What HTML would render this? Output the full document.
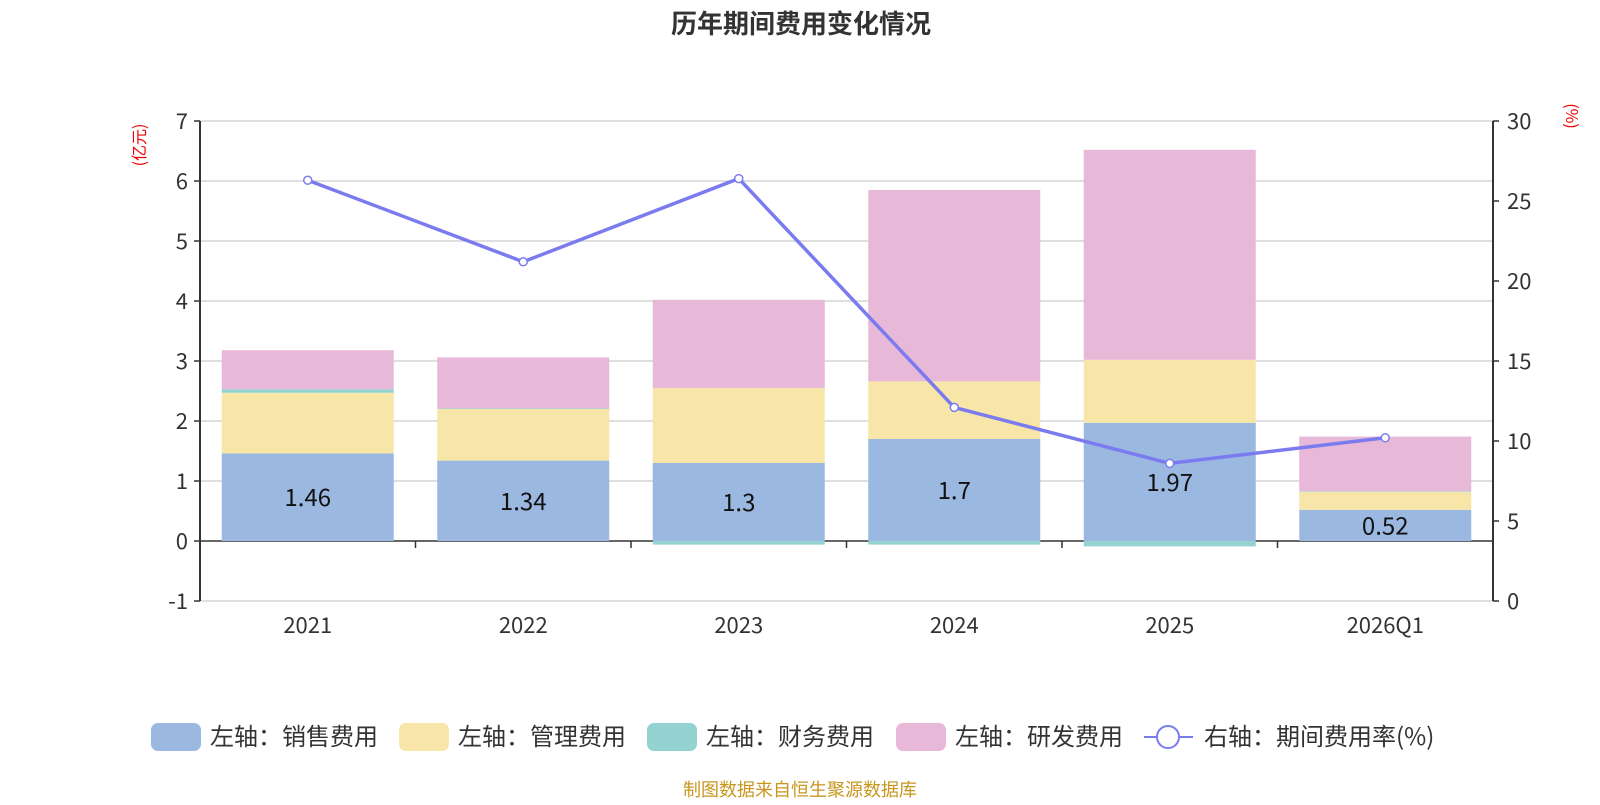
<!DOCTYPE html>
<html><head><meta charset="utf-8">
<style>
body{margin:0;background:#fff;font-family:"Noto Sans CJK SC","Liberation Sans",sans-serif;}
</style></head>
<body>
<svg id="chart" width="1600" height="800" xmlns="http://www.w3.org/2000/svg" font-family="Noto Sans CJK SC, Liberation Sans, sans-serif">
<text x="801" y="33" text-anchor="middle" font-size="26" font-weight="bold" fill="#333">历年期间费用变化情况</text>
<text transform="translate(145,145) rotate(-90)" text-anchor="middle" font-size="16" fill="#e00">(亿元)</text>
<text transform="translate(1566,116) rotate(90)" text-anchor="middle" font-size="16" fill="#e00">(%)</text>
<g id="grid"></g><g id="bars"></g><g id="axes"></g><g id="line"></g>
<g id="legend" font-size="24" fill="#333"></g>
<text x="800" y="796" text-anchor="middle" font-size="18" fill="#c8961e">制图数据来自恒生聚源数据库</text>
</svg>
<script>
const categories=["2021","2022","2023","2024","2025","2026Q1"];
const sales=[1.46,1.34,1.3,1.7,1.97,0.52];
const mgmt=[1.01,0.86,1.25,0.96,1.05,0.3];
const finance=[0.06,0.01,-0.06,-0.06,-0.09,0.01];
const rnd=[0.65,0.85,1.47,3.19,3.5,0.91];
const rate=[26.3,21.2,26.4,12.1,8.6,10.2];
const leftTicks=[-1,0,1,2,3,4,5,6,7];
const rightTicks=[0,5,10,15,20,25,30];
const NS="http://www.w3.org/2000/svg";
const x0=200,x1=1493,yTop=121,yBot=601;
const yL=v=>yTop+(7-v)*(yBot-yTop)/8;
const yR=v=>yBot-v*(yBot-yTop)/30;
const bw=(x1-x0)/categories.length;
const xc=i=>x0+bw*(i+0.5);
function mk(tag,attrs,parent){const e=document.createElementNS(NS,tag);for(const k in attrs)e.setAttribute(k,attrs[k]);document.getElementById(parent).appendChild(e);return e;}
leftTicks.forEach(t=>{
 const l=mk('line',{x1:x0,x2:x1,y1:yL(t),y2:yL(t),stroke:t===0?'#333':'#ccc','stroke-width':t===0?1.5:1.2},'grid');
 
 
 const tx=mk('text',{x:x0-12,y:yL(t)+8,'text-anchor':'end','font-size':22,fill:'#333'},'axes');tx.textContent=t;
 
 
 mk('line',{x1:x0-6,x2:x0,y1:yL(t),y2:yL(t),stroke:'#333','stroke-width':1.5},'axes');
});
rightTicks.forEach(t=>{
 const tx=mk('text',{x:x1+14,y:yR(t)+8,'font-size':22,fill:'#333'},'axes');tx.textContent=t;
 
 
 mk('line',{x1:x1,x2:x1+6,y1:yR(t),y2:yR(t),stroke:'#333','stroke-width':1.5},'axes');
});
mk('line',{x1:x0,x2:x0,y1:yTop,y2:yBot,stroke:'#333','stroke-width':2},'axes');
mk('line',{x1:x1,x2:x1,y1:yTop,y2:yBot,stroke:'#333','stroke-width':2},'axes');
for(let i=1;i<categories.length;i++)mk('line',{x1:x0+bw*i,x2:x0+bw*i,y1:yL(0),y2:yL(0)+7,stroke:'#333','stroke-width':1.5},'axes');
categories.forEach((c,i)=>{
 const tx=mk('text',{x:xc(i),y:633,'text-anchor':'middle','font-size':22,fill:'#333'},'axes');tx.textContent=c;
 
 
 const w=172,x=xc(i)-w/2;
 let pos=0,neg=0;
 [[sales,'#9bb8e0','bar-sales'],[mgmt,'#f8e6a8','bar-management'],[finance,'#95d3d3','bar-finance'],[rnd,'#e7b8d8','bar-rnd']].forEach(([arr,col,nm])=>{
  const v=arr[i];let a,b;
  if(v>=0){a=pos;b=pos+v;pos=b;}else{a=neg+v;b=neg;neg=a;}
  const r=mk('rect',{x:x,width:w,y:yL(b),height:yL(a)-yL(b),fill:col},'bars');
  
  
 });
 const lb=mk('text',{x:xc(i),y:(yL(0)+yL(sales[i]))/2+9,'text-anchor':'middle','font-size':24,fill:'#111'},'bars');lb.textContent=sales[i];
 
 
});
mk('polyline',{points:rate.map((v,i)=>xc(i)+','+yR(v)).join(' '),fill:'none',stroke:'#7b7bf0','stroke-width':3.5},'line');
rate.forEach((v,i)=>{const c=mk('circle',{cx:xc(i),cy:yR(v),r:4,fill:'#fff',stroke:'#7b7bf0','stroke-width':1.5},'line');
 
 });
const leg=[['左轴：销售费用','#9bb8e0',151],['左轴：管理费用','#f8e6a8',399],['左轴：财务费用','#95d3d3',647],['左轴：研发费用','#e7b8d8',896]];
leg.forEach(([t,c,x])=>{
 const r=mk('rect',{x:x,y:723,width:50,height:28,rx:7,fill:c},'legend');
 
 
 const tx=mk('text',{x:x+59,y:745},'legend');tx.textContent=t;
 
 
});
mk('line',{x1:1144,x2:1193,y1:737,y2:737,stroke:'#7b7bf0','stroke-width':2},'legend');
const lc=mk('circle',{cx:1168,cy:737,r:11,fill:'#fff',stroke:'#7b7bf0','stroke-width':2},'legend');


const lt=mk('text',{x:1204,y:745},'legend');lt.textContent='右轴：期间费用率(%)';


</script>
</body></html>
